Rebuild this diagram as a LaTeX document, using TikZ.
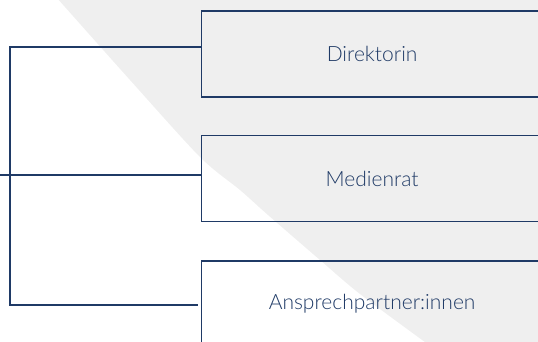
\documentclass[tikz,border=0pt]{standalone}
\usepackage{fontspec}
\newfontfamily\labelfont{Lato Light}
\definecolor{navy}{HTML}{1F3A66}
\definecolor{lightgray}{HTML}{EFEFEF}

\begin{document}
\begin{tikzpicture}[
    x=1pt, y=-1pt,
    connector/.style={line width=1.2pt, navy},
    orgbox/.style={draw=navy, line width=1.2pt, rectangle, anchor=west,
        minimum width=342pt, minimum height=86pt, inner sep=0pt,
        text=navy, font=\labelfont\fontsize{21}{25}\selectfont},
    backshade/.style={fill=lightgray}
]

% Fix the page size
\useasboundingbox (0,0) rectangle (538,342);
\clip (0,0) rectangle (538,342);

% Shade the background
\path[backshade] (545,-2) -- (545,345)
    -- plot[smooth, tension=0.5] coordinates {(429,345) (360,294) (320,260)
        (268,215) (240,190) (200,157) (130,80) (57,-2)} -- cycle;

% Define coordinates
\coordinate (trunk_top) at (10,47);
\coordinate (trunk_bot) at (10,305);
\coordinate (entry) at (0,175);

% Draw the boxes
\node[orgbox] (direktorin) at (200.5,54) {Direktorin};
\node[orgbox] (medienrat) at (200.5,178.5) {Medienrat};
\node[orgbox] (ansprech) at (200.5,304) {Ansprechpartner:innen};

% Draw the connectors
\draw[connector] (trunk_top -| direktorin.west) -- (trunk_top) -- (trunk_bot)
    -- ([xshift=-3]trunk_bot -| ansprech.west);
\draw[connector] (entry) -- (entry -| medienrat.west);

\end{tikzpicture}
\end{document}
